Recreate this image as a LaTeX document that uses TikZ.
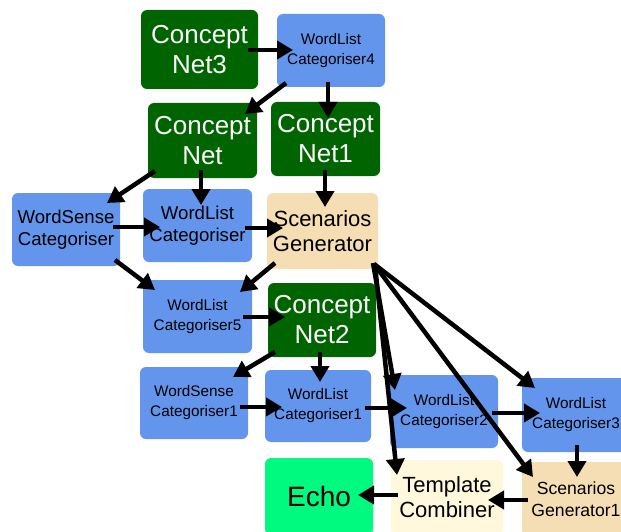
\documentclass[tikz,border=0pt]{standalone}
\usepackage{fontspec}
\setmainfont{Liberation Sans}
\usetikzlibrary{arrows.meta}
\definecolor{cgreen}{HTML}{006400}
\definecolor{cblue}{HTML}{6495ED}
\definecolor{cwheat}{HTML}{F5DEB3}
\definecolor{ccream}{HTML}{FFF8DC}
\definecolor{cecho}{HTML}{00FA7F}
\tikzset{
  box/.style={rounded corners=6pt, inner sep=0pt, align=center},
  gbox/.style={box, fill=cgreen, text=white, font=\fontsize{26}{30}\selectfont},
  bsmall/.style={box, fill=cblue, text=black, font=\fontsize{15.3}{20}\selectfont},
  bbig/.style={box, fill=cblue, text=black, font=\fontsize{18.6}{22.5}\selectfont},
  wbox/.style={box, fill=cwheat, text=black},
  flow/.style={line width=4.5pt, -{Triangle[length=16pt,width=18pt]}},
}
\begin{document}
\begin{tikzpicture}[x=1pt,y=-1pt]
\useasboundingbox (0,0) rectangle (621,532);
\clip (0,0) rectangle (621,532);
% nodes
\node[gbox, minimum width=117pt, minimum height=79pt] (cn3) at (199.5,49.5) {Concept\\Net3};
\node[bsmall, minimum width=108pt, minimum height=73pt] (wlc4) at (331,50.5) {WordList\\Categoriser4};
\node[gbox, minimum width=109pt, minimum height=75pt] (cn) at (202.5,140.5) {Concept\\Net};
\node[gbox, minimum width=109pt, minimum height=74pt] (cn1) at (325.5,139) {Concept\\Net1};
\node[bbig, minimum width=108pt, minimum height=73pt] (wsc) at (66,229.5) {WordSense\\Categoriser};
\node[bbig, minimum width=109pt, minimum height=73pt] (wlc) at (197.5,225.5) {WordList\\Categoriser};
\node[wbox, minimum width=111pt, minimum height=76pt, font=\fontsize{22}{25}\selectfont] (sg) at (322.5,231) {Scenarios\\Generator};
\node[bsmall, minimum width=109pt, minimum height=73pt] (wlc5) at (197.5,316.5) {WordList\\Categoriser5};
\node[gbox, minimum width=108pt, minimum height=74pt] (cn2) at (322,320) {Concept\\Net2};
\node[bsmall, minimum width=108pt, minimum height=72pt] (wsc1) at (194,403) {WordSense\\Categoriser1};
\node[bsmall, minimum width=106pt, minimum height=72pt] (wlc1) at (318,406) {WordList\\Categoriser1};
\node[bsmall, minimum width=108pt, minimum height=73pt] (wlc2) at (444,411.5) {WordList\\Categoriser2};
\node[bsmall, minimum width=108pt, minimum height=74pt] (wlc3) at (576,415) {WordList\\Categoriser3};
\node[box, fill=cecho, text=black, minimum width=108pt, minimum height=77pt, font=\fontsize{28}{32}\selectfont] (echo) at (319,496.5) {Echo};
\node[box, fill=ccream, text=black, minimum width=112pt, minimum height=75pt, font=\fontsize{22}{25}\selectfont] (tc) at (447,497.5) {Template\\Combiner};
\node[wbox, minimum width=108pt, minimum height=74pt, font=\fontsize{17.6}{22}\selectfont] (sg1) at (576,499) {Scenarios\\Generator1};
% connectors
\draw[flow] ([shift={(48.5,0.5)}]cn3.center) -- ([shift={(-38,-0.5)}]wlc4.center);
\draw[flow] ([shift={(-45,32.5)}]wlc4.center) -- ([shift={(42.5,-26.5)}]cn.center);
\draw[flow] ([shift={(-3,31.5)}]wlc4.center) -- ([shift={(2.5,-21)}]cn1.center);
\draw[flow] ([shift={(-47.5,30.5)}]cn.center) -- ([shift={(41,-26.5)}]wsc.center);
\draw[flow] ([shift={(-1.5,29.5)}]cn.center) -- ([shift={(3.5,-20.5)}]wlc.center);
\draw[flow] ([shift={(-0.5,31)}]cn1.center) -- ([shift={(2.5,-24)}]sg.center);
\draw[flow] ([shift={(47,-2.5)}]wsc.center) -- ([shift={(-37.5,1.5)}]wlc.center);
\draw[flow] ([shift={(47.5,2.5)}]wlc.center) -- ([shift={(-39.5,-3)}]sg.center);
\draw[flow] ([shift={(49,30.5)}]wsc.center) -- ([shift={(-42.5,-26.5)}]wlc5.center);
\draw[flow] ([shift={(-47.5,32)}]sg.center) -- ([shift={(42.5,-24.5)}]wlc5.center);
\draw[flow] ([shift={(45.5,0.5)}]wlc5.center) -- ([shift={(-37,-3)}]cn2.center);
\draw[flow] ([shift={(-47,32)}]cn2.center) -- ([shift={(39,-26)}]wsc1.center);
\draw[flow] ([shift={(-2,32)}]cn2.center) -- ([shift={(2,-24)}]wlc1.center);
\draw[flow] ([shift={(46,4)}]wsc1.center) -- ([shift={(-36,1)}]wlc1.center);
\draw[flow] ([shift={(47,2)}]wlc1.center) -- ([shift={(-37,-3.5)}]wlc2.center);
\draw[flow] ([shift={(48,1.5)}]wlc2.center) -- ([shift={(-36,-2)}]wlc3.center);
\draw[flow] ([shift={(1,30)}]wlc3.center) -- ([shift={(1,-22)}]sg1.center);
\draw[flow] ([shift={(-48,1)}]sg1.center) -- ([shift={(41,2.5)}]tc.center);
\draw[flow] ([shift={(-49,-2.5)}]tc.center) -- ([shift={(39,-1.5)}]echo.center);
\draw[flow] ([shift={(50.5,32)}]sg.center) -- ([shift={(-49,-21.5)}]wlc2.center);
\draw[flow] ([shift={(52.5,34)}]sg.center) -- ([shift={(-50,-22.5)}]tc.center);
\draw[flow] ([shift={(51.5,33)}]sg.center) -- ([shift={(-43,-22)}]sg1.center);
\draw[flow] ([shift={(51.5,33)}]sg.center) -- ([shift={(-41,-27)}]wlc3.center);
\end{tikzpicture}
\end{document}
